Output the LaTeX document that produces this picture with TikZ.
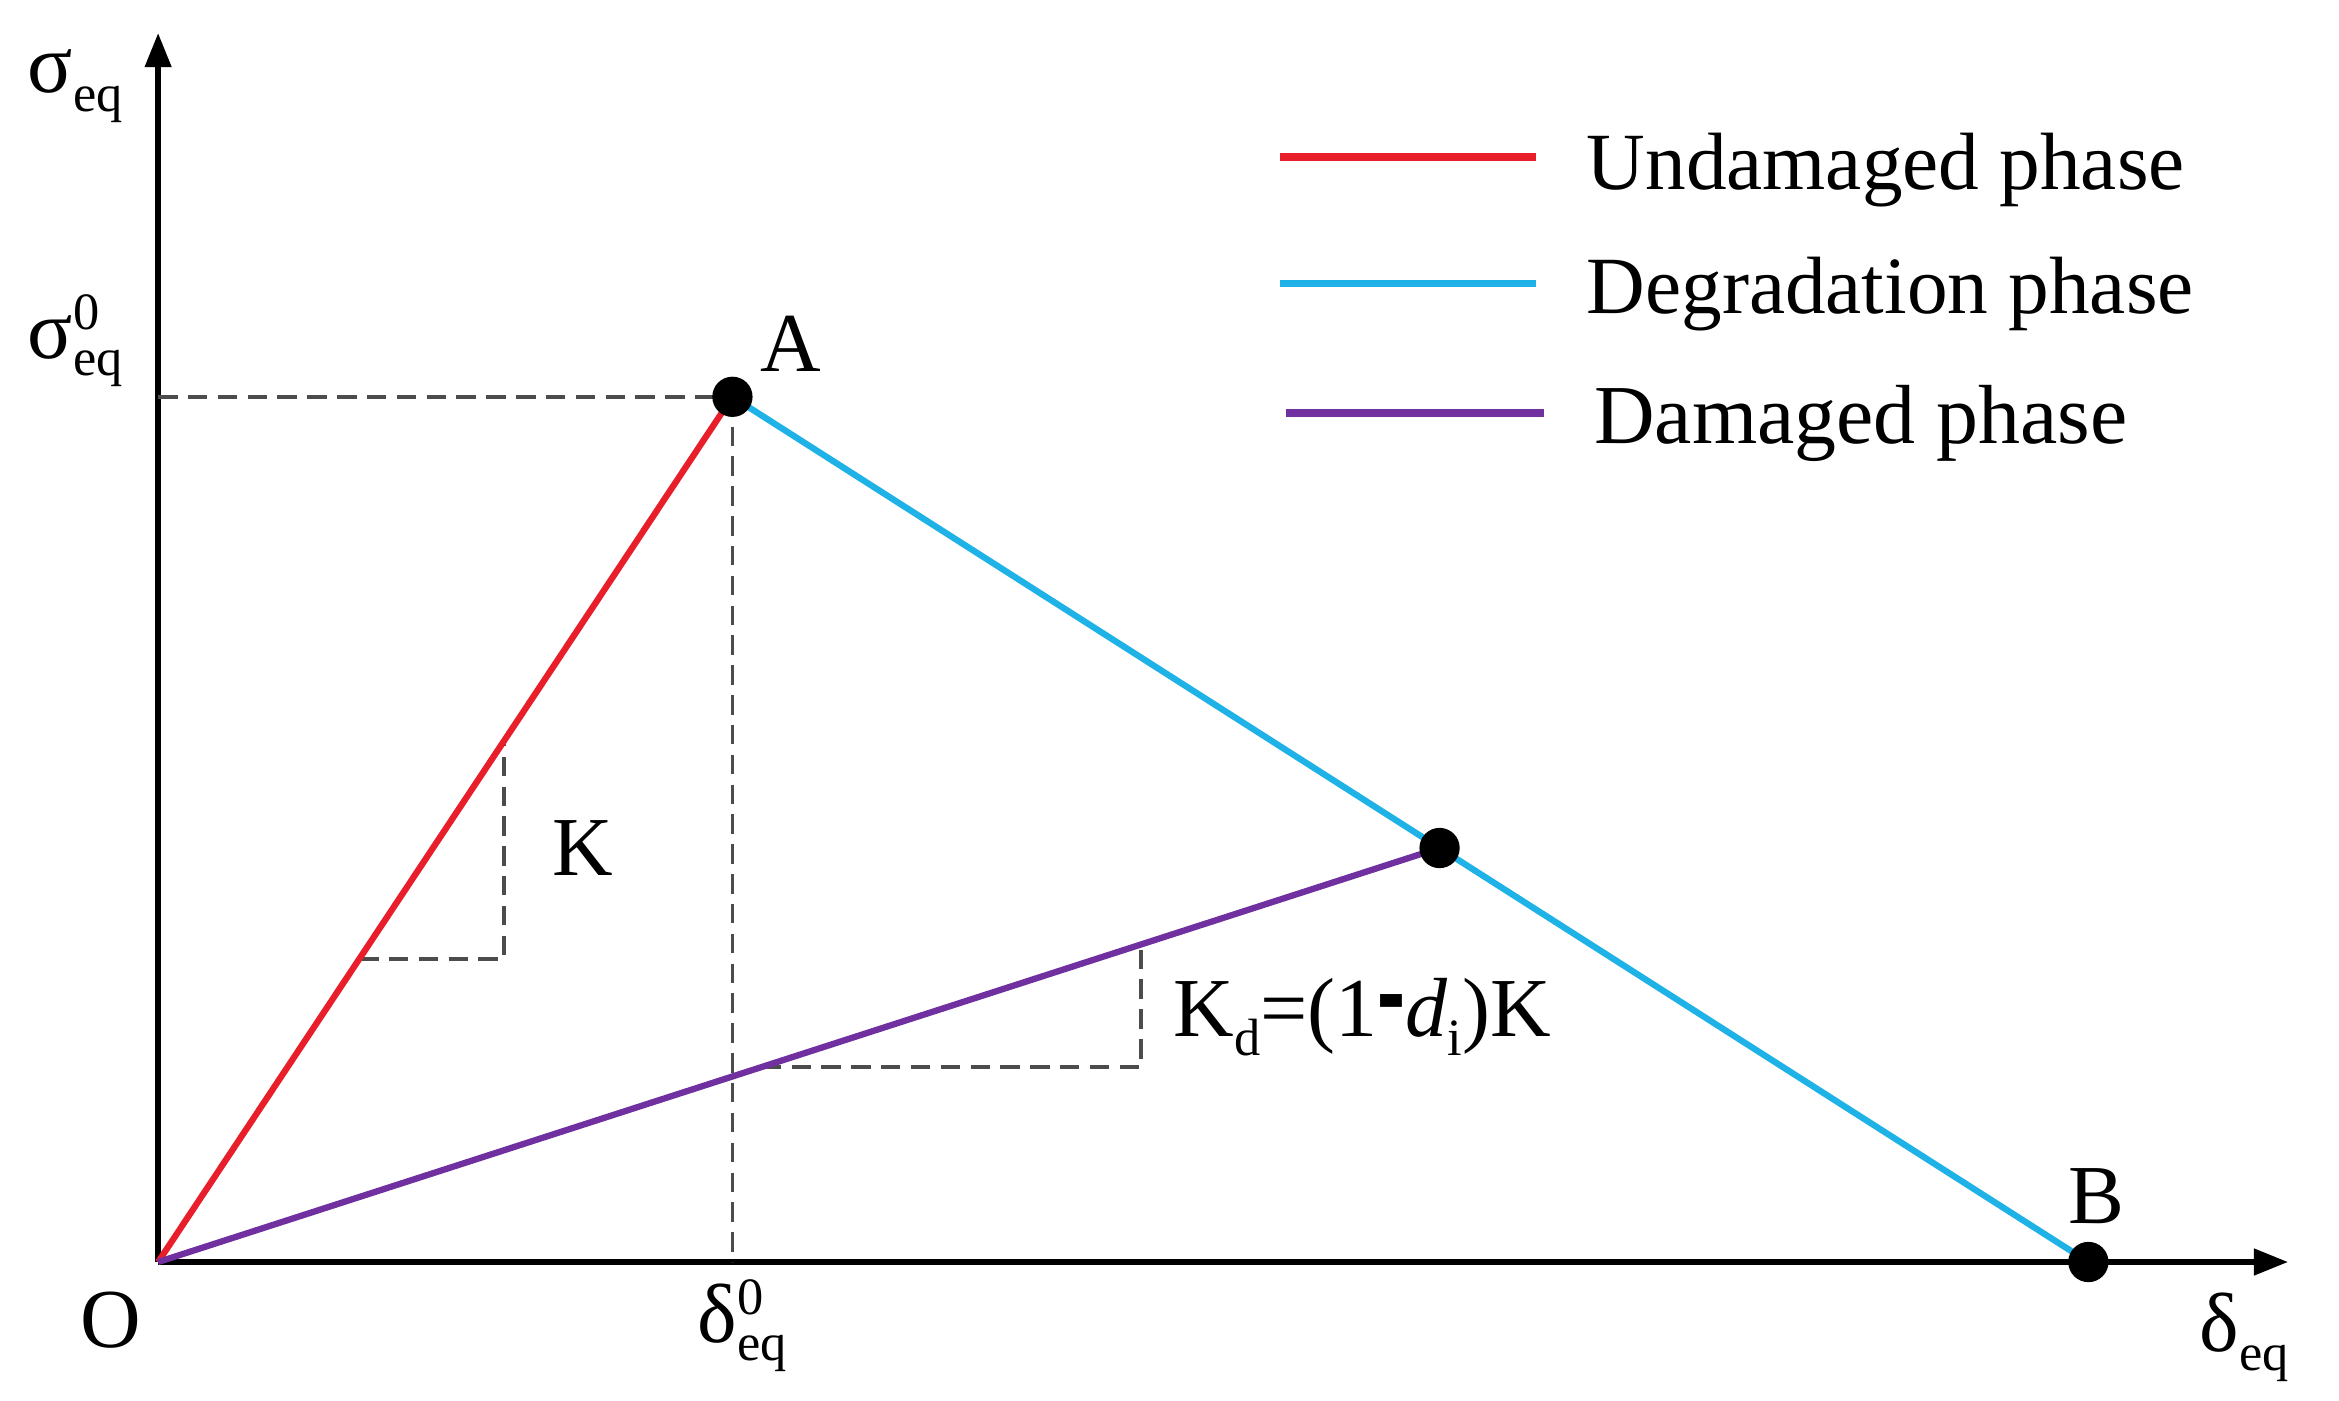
\documentclass[tikz,border=0pt]{standalone}
\usepackage{fontspec}
\usepackage{graphicx}
\setmainfont{Liberation Serif}
\usetikzlibrary{positioning, calc, arrows.meta}

\definecolor{undamred}{RGB}{232,30,42}
\definecolor{degrblue}{RGB}{30,178,230}
\definecolor{dampurple}{RGB}{112,48,160}

\newcommand{\qsub}[2]{#1\raisebox{-3.6pt}{\fontsize{10}{10}\selectfont #2}}
\newcommand{\qsupsub}[3]{#1\rlap{\raisebox{5.4pt}{\fontsize{10}{10}\selectfont #2}}\raisebox{-3.4pt}{\fontsize{10}{10}\selectfont #3}}

\tikzset{
    axis/.style={line width=1.2pt, -{Triangle[length=2.3mm, width=1.7mm]}},
    guide/.style={black!70, line width=0.7pt, dash pattern=on 1.3mm off 0.7mm},
    dot/.style={circle, fill=black, inner sep=0pt, minimum size=2.7mm},
    phase/.style={line width=1.2pt},
    legline/.style={line width=1.5pt},
    lbl/.style={font=\fontsize{16}{19}\selectfont, inner sep=0pt, anchor=base west},
    legtext/.style={font=\fontsize{15.5}{19}\selectfont, inner sep=0pt, anchor=base west}
}

\begin{document}
\begin{tikzpicture}[x=0.1mm, y=-0.1mm]
        \useasboundingbox (0,0) rectangle (1568,939);

        % axes
        \coordinate (O) at (106,846);
        \coordinate (ytip) at (106,22);
        \coordinate (xtip) at (1534,846);
        \draw[axis] (O) -- (ytip);
        \draw[axis] (O) -- (xtip);

        % key points
        \coordinate (pA) at (491,266);
        \coordinate (pB) at (1400,846);
        \coordinate (pM) at ($(pA)!0.5215!(pB)$);
        \coordinate (sig0) at (pA -| O);
        \coordinate (del0) at (pA |- O);

        % guides
        \draw[guide] (sig0) -- (pA);
        \draw[guide] (pA) -- (del0);

        % slope K
        \coordinate (kTop) at ($(O)!0.6026!(pA)$);
        \coordinate (kLeft) at ($(O)!0.35!(pA)$);
        \draw[guide] (kLeft) -- (kTop |- kLeft) -- (kTop);

        % slope Kd
        \coordinate (kdTop) at ($(O)!0.767!(pM)$);
        \coordinate (kdLeft) at ($(O)!0.471!(pM)$);
        \draw[guide] (kdLeft) -- (kdTop |- kdLeft) -- (kdTop);

        % phases
        \draw[phase, undamred] (O) -- (pA);
        \draw[phase, degrblue] (pA) -- (pB);
        \draw[phase, dampurple] (O) -- (pM);

        \node[dot] (A) at (pA) {};
        \node[dot] (B) at (pB) {};
        \node[dot] (M) at (pM) {};

        % labels
        \node[lbl] (sigeq) at (18,62) {\qsub{σ}{eq}};
        \node[lbl] (sigeq0) at (18,240) {\qsupsub{σ}{0}{eq}};
        \node[lbl] (labA) at (509,249) {A};
        \node[lbl] (labB) at (1386,820) {B};
        \node[lbl] (labO) at (53,903) {O};
        \node[lbl] (deleq0) at (467,900) {\qsupsub{δ}{0}{eq}};
        \node[lbl] (deleq) at (1474,906) {\qsub{δ}{eq}};
        \node[lbl] (labK) at (370,587) {K};
        \node[lbl] (labKd) at (786,695) {\qsub{K}{d}=(1\scalebox{1}[1.8]{\textbf{-}}\qsub{\textit{d}}{i})K};

        % legend
        \coordinate (leg1a) at (858,105);
        \coordinate (leg1b) at (1030,105);
        \coordinate (leg2a) at (858,190);
        \coordinate (leg2b) at (1030,190);
        \coordinate (leg3a) at (862,277);
        \coordinate (leg3b) at (1035,277);
        \draw[legline, undamred] (leg1a) -- (leg1b);
        \draw[legline, degrblue] (leg2a) -- (leg2b);
        \draw[legline, dampurple] (leg3a) -- (leg3b);
        \node[legtext] (leg1) at (1063,127) {Undamaged phase};
        \node[legtext] (leg2) at (1063,210) {Degradation phase};
        \node[legtext, font=\fontsize{16}{19}\selectfont] (leg3) at (1068,297) {Damaged phase};
    \end{tikzpicture}
\end{document}
